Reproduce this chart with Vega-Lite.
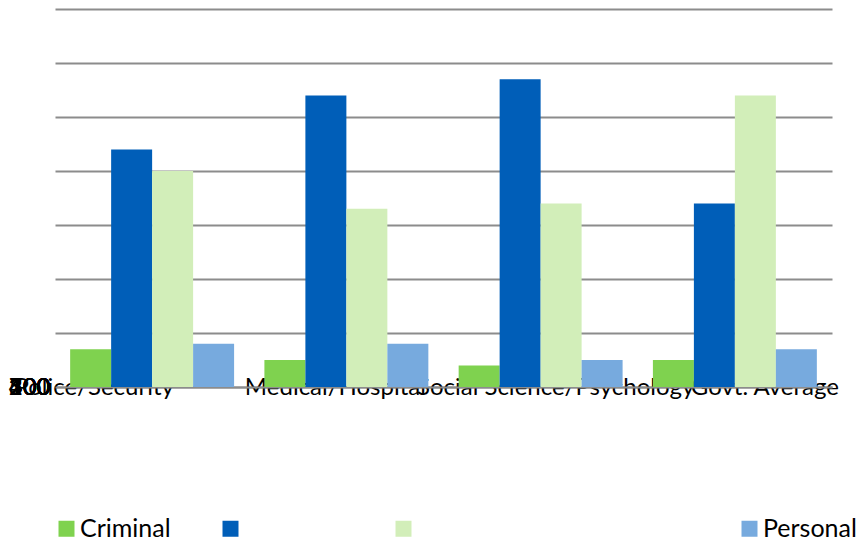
{
  "$schema": "https://vega.github.io/schema/vega-lite/v6.json",
  "width": 777,
  "height": 378,
  "autosize": {"type": "none"},
  "padding": {"left": 55, "top": 9, "right": 26, "bottom": 154},
  "background": "white",
  "config": {"view": {"stroke": null}, "font": "Lato"},
  "data": {
    "values": [
      {"category": "Police/Security", "series": "Criminal", "value": 70},
      {"category": "Police/Security", "series": "Series 2", "value": 440},
      {"category": "Police/Security", "series": "Series 3", "value": 400},
      {"category": "Police/Security", "series": "Personal", "value": 80},
      {"category": "Medical/Hospital", "series": "Criminal", "value": 50},
      {"category": "Medical/Hospital", "series": "Series 2", "value": 540},
      {"category": "Medical/Hospital", "series": "Series 3", "value": 330},
      {"category": "Medical/Hospital", "series": "Personal", "value": 80},
      {"category": "Social Science/Psychology", "series": "Criminal", "value": 40},
      {"category": "Social Science/Psychology", "series": "Series 2", "value": 570},
      {"category": "Social Science/Psychology", "series": "Series 3", "value": 340},
      {"category": "Social Science/Psychology", "series": "Personal", "value": 50},
      {"category": "Govt. Average", "series": "Criminal", "value": 50},
      {"category": "Govt. Average", "series": "Series 2", "value": 340},
      {"category": "Govt. Average", "series": "Series 3", "value": 540},
      {"category": "Govt. Average", "series": "Personal", "value": 70}
    ]
  },
  "mark": {"type": "bar"},
  "encoding": {
    "x": {
      "field": "category",
      "type": "nominal",
      "sort": ["Police/Security", "Medical/Hospital", "Social Science/Psychology", "Govt. Average"],
      "scale": {"paddingInner": 0.156, "paddingOuter": 0.078},
      "axis": {
        "title": null,
        "domain": true,
        "domainColor": "#8c8c8c",
        "domainWidth": 2,
        "ticks": false,
        "tickSize": 0,
        "labelAngle": 0,
        "labelAlign": "center",
        "labelBaseline": "middle",
        "labelPadding": 0,
        "labelFont": "Lato",
        "labelFontSize": 24,
        "labelColor": "#000000",
        "labelLimit": 0,
        "labelOverlap": false,
        "labelOffset": {
          "condition": [
            {"test": "datum.value == 'Police/Security'", "value": -58},
            {"test": "datum.value == 'Medical/Hospital'", "value": -11},
            {"test": "datum.value == 'Social Science/Psychology'", "value": 15},
            {"test": "datum.value == 'Govt. Average'", "value": 30}
          ],
          "value": 0
        }
      }
    },
    "xOffset": {
      "field": "series",
      "type": "nominal",
      "sort": ["Criminal", "Series 2", "Series 3", "Personal"],
      "scale": {"paddingInner": 0, "paddingOuter": 0}
    },
    "y": {
      "field": "value",
      "type": "quantitative",
      "scale": {"domain": [0, 700], "nice": false},
      "axis": {
        "title": null,
        "values": [0, 100, 200, 300, 400, 500, 600, 700],
        "domain": false,
        "ticks": false,
        "tickSize": 0,
        "grid": true,
        "gridColor": "#8c8c8c",
        "gridWidth": 2,
        "labelFont": "Lato",
        "labelFontSize": 24,
        "labelColor": "#000000",
        "labelPadding": 5,
        "labelAlign": "right",
        "labelBaseline": "middle",
        "labelFlush": false,
        "labelOverlap": false,
        "labelOffset": {
          "condition": [
            {"test": "datum.value == 100", "value": 54},
            {"test": "datum.value == 200", "value": 108},
            {"test": "datum.value == 300", "value": 162},
            {"test": "datum.value == 400", "value": 216},
            {"test": "datum.value == 500", "value": 270},
            {"test": "datum.value == 600", "value": 324},
            {"test": "datum.value == 700", "value": 378}
          ],
          "value": 0
        }
      }
    },
    "color": {
      "field": "series",
      "type": "nominal",
      "sort": ["Criminal", "Series 2", "Series 3", "Personal"],
      "scale": {
        "domain": ["Criminal", "Series 2", "Series 3", "Personal"],
        "range": ["#7fd24f", "#005eb8", "#d2eeb9", "#77aade"]
      },
      "legend": {
        "orient": "none",
        "legendX": -1,
        "legendY": 507,
        "direction": "horizontal",
        "title": null,
        "padding": 0,
        "symbolType": "square",
        "symbolSize": 256,
        "symbolStrokeWidth": 0,
        "labelFont": "Lato",
        "labelFontSize": 25,
        "labelColor": "#000000",
        "labelOffset": 1,
        "labelLimit": 0,
        "columnPadding": 47,
        "labelExpr": "datum.label == 'Series 2' ? '\u2014\u2014\u2014\u2014\u2014' : datum.label == 'Series 3' ? '\u2014\u2014\u2014\u2014\u2014\u2014\u2014\u2014\u2014\u2014\u2014\u2014\u2014\u2013' : datum.label",
        "encode": {
          "labels": {
            "update": {
              "opacity": {"signal": "datum.value == 'Series 2' || datum.value == 'Series 3' ? 0 : 1"}
            }
          }
        }
      }
    }
  }
}
